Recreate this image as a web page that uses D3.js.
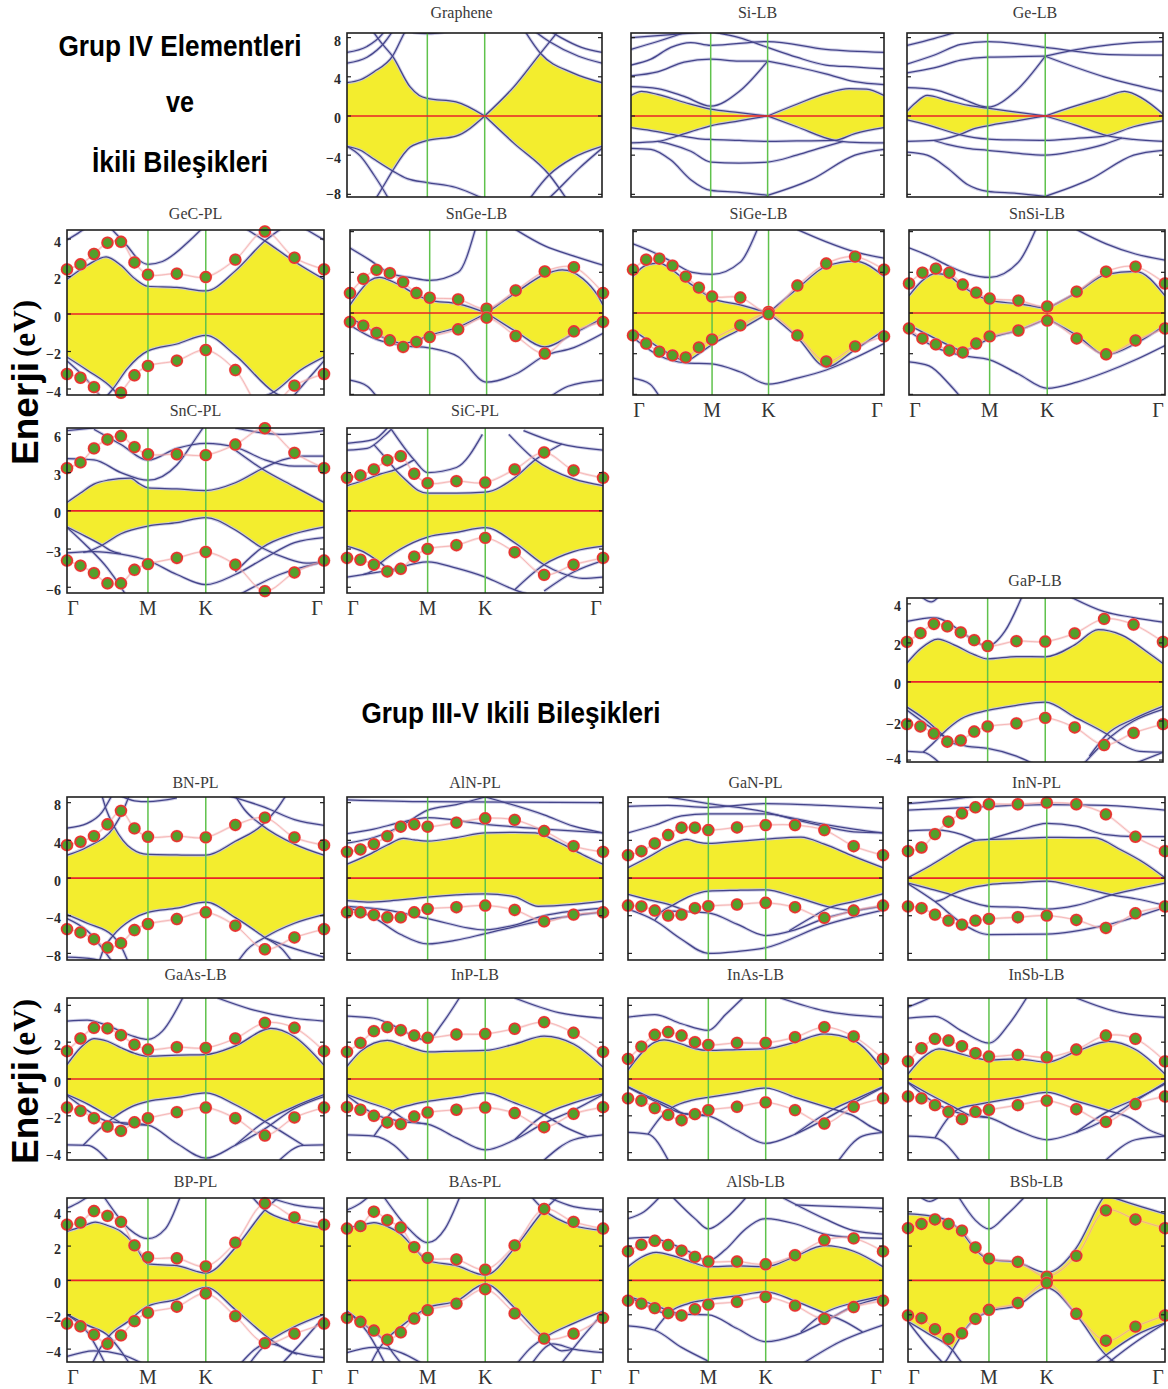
<!DOCTYPE html>
<html><head><meta charset="utf-8">
<script src="https://cdn.jsdelivr.net/npm/d3@7"></script>
<style>body{margin:0;background:#fff}</style>
</head><body>
<svg id="chart" width="1168" height="1389"></svg>
<script>
// k-path labels; k is given as an index 0..12 along Γ–M–K–Γ (M = 6, K = 8)
const kLabels = ["Γ", "M", "K", "Γ"];
const ticks8 = [-8, -4, 0, 4, 8];
const ticks6 = [-6, -3, 0, 3, 6];
const ticks4 = [-4, -2, 0, 2, 4];

// ---- band structures: [k, E(eV)] points; CB = above the gap, VB = below ----
const grapheneCB = [
  [[1.5,9.5],[2.6,7.4],[3.4,6.1],[4.7,3.0],[5.4,2.1],[6,1.8],[7,1.45],[8,0]],
  [[8,0],[9,3.0],[9.9,6.4],[10.6,9.0]],
  [[0,3.4],[1,3.7],[2,4.5],[3.4,6.1],[4.3,8.5],[5,10]],
  [[9.3,9.0],[9.9,6.4],[11,4.4],[12,3.4]],
  [[0,5.4],[1.5,6.0],[2.8,7.5],[3.8,9.5]],
  [[9.3,9.6],[10.2,7.6],[11.2,6.1],[12,5.4]],
  [[0,6.5],[1.5,7.1],[2.6,8.3],[3.2,9.5]],
  [[9.8,9.5],[10.6,8.0],[11.3,7.0],[12,6.5]],
  [[4,9.0],[5,8.5],[6,8.4],[7,8.7]]
];
const grapheneVB = [
  [[1.9,-9],[2.7,-7.2],[3.4,-5.6],[4.7,-3.2],[5.4,-2.75],[6,-2.5],[7,-2.05],[8,0]],
  [[8,0],[9,-2.8],[10.2,-6.0],[10.8,-8.5]],
  [[0,-3.1],[1,-3.5],[2,-4.4],[3.4,-5.6],[4.5,-6.4],[6,-6.8],[7,-7.3],[8,-8.5],[8.7,-9.5]],
  [[0,-3.1],[1,-4.1],[2,-6.0],[3,-8.2],[3.5,-9.5]],
  [[9.4,-9],[10.2,-6.0],[11,-4.3],[12,-3.1]],
  [[9.8,-9.5],[10.5,-7.5],[11.2,-5.4],[12,-3.3]]
];
const siliceneCB = [
  [[0,2.1],[0.8,2.5],[2,2.2],[4,1.4],[6,0.7],[7,0.35],[8,0]],
  [[8,0],[9,1.2],[10,2.3],[10.8,2.8],[11.4,2.75],[12,2.1]],
  [[0,3.0],[2,2.8],[4,2.0],[6,1.0],[7,2.5],[8,5.6]],
  [[8,5.6],[9,5.0],[10,4.3],[11,3.5],[12,3.2]],
  [[0,4.1],[2,4.5],[4,5.5],[6,5.8],[7,5.6],[8,5.6]],
  [[0,5.2],[1.5,5.8],[3,7.0],[4.5,7.5],[6,7.2],[8,7.6],[10,6.8],[12,6.5]],
  [[0,6.8],[2,7.6],[4,8.5]],
  [[6,8.6],[7,8.0],[8,7.0],[9,6.0],[10,5.2],[11,5.0],[12,4.8]],
  [[0,8.0],[3,8.3],[6,8.6]]
];
const siliceneVB = [
  [[0,-1.2],[1.5,-1.5],[3.6,-2.0],[5,-2.3],[6,-2.4],[7,-2.5],[8,-2.6],[9,-2.55],[10.3,-2.5],[11,-1.8],[12,-1.2]],
  [[0,-2.75],[2,-2.6],[3.6,-2.0],[5,-1.4],[6,-1.0],[7,-0.5],[8,0]],
  [[8,0],[9,-1.1],[10.3,-2.5],[11,-2.7],[12,-2.75]],
  [[0,-3.3],[1.5,-3.4],[3,-4.5],[4.5,-6.5],[6,-7.6],[7,-7.8],[8,-8.1]],
  [[8,-8.1],[9.5,-6.5],[11,-4.0],[12,-3.4]],
  [[2,-2.6],[3,-2.9],[4.5,-3.6],[6,-4.7],[7,-4.8],[8,-4.7],[9,-4.0],[10,-3.1],[10.6,-2.6]]
];
const germaneneCB = [
  [[0,0.5],[0.6,1.3],[1.5,2.1],[3,1.6],[4.5,1.1],[6,0.8],[7,0.4],[8,0]],
  [[8,0],[9,1.0],[10,1.9],[10.7,2.5],[11.3,1.8],[12,0.2]],
  [[0,2.9],[2,2.7],[4,1.8],[6,0.9],[7,2.6],[8,6.1]],
  [[8,6.1],[9,5.0],[10,4.0],[11,3.2],[12,2.5]],
  [[0,4.4],[2,4.9],[4,5.7],[6,6.0],[8,6.1]],
  [[0,5.3],[2,6.2],[4,7.3],[6,7.6],[8,7.0],[10,6.3],[12,6.2]],
  [[0,7.2],[2,7.9],[3.5,8.5]],
  [[8,6.1],[9.5,7.0],[11,7.5],[12,7.6]]
];
const germaneneVB = [
  [[0,-0.4],[1.5,-0.9],[3.9,-1.9],[5,-2.2],[6,-2.35],[7,-2.45],[8,-2.5],[9,-2.3],[10.1,-2.0],[11,-1.1],[12,-0.5]],
  [[0,-2.6],[2,-2.5],[3.9,-1.9],[5,-1.3],[6,-1.0],[7,-0.5],[8,0]],
  [[8,0],[9,-0.9],[10.1,-2.0],[11,-2.4],[12,-2.6]],
  [[0,-3.7],[1.5,-4.0],[3,-5.3],[4.5,-7.0],[6,-7.7],[7,-7.9],[8,-8.2]],
  [[8,-8.2],[9.5,-6.5],[11,-4.0],[12,-3.5]],
  [[2,-2.5],[3,-2.9],[4.5,-3.3],[6,-3.5],[7,-3.8],[8,-4.0],[9,-3.6],[10,-2.9],[10.6,-2.25]]
];
const gecCB = [
  [[0,1.85],[1.5,2.6],[2.9,3.05],[4,2.6],[5,1.9],[6,1.48],[7,1.42],[8,1.23],[9,2.3],[10,3.9],[10.6,4.6]],
  [[9.3,4.6],[10,3.9],[11,2.8],[12,1.85]],
  [[0,3.95],[0.8,4.3],[1.4,4.6]],
  [[3.2,4.6],[4.5,3.6],[5.3,2.9],[6,2.65],[6.5,2.8],[7.5,4.0],[7.9,4.6]],
  [[11.3,4.6],[12,3.95]]
];
const gecVB = [
  [[0,-2.3],[1.5,-3.0],[3.4,-4.0],[4,-4.5]],
  [[2.8,-4.5],[3.4,-4.0],[4.5,-2.9],[6,-1.97],[7,-1.6],[8,-1.14],[9,-2.2],[10.3,-4.16],[10.7,-4.5]],
  [[9.8,-4.5],[10.3,-4.16],[11.2,-3.0],[12,-2.3]],
  [[0,-2.5],[1.2,-3.3],[2.6,-4.5]],
  [[10.9,-4.5],[11.5,-3.4],[12,-2.5]]
];
const sngeCB = [
  [[0,0.4],[0.6,0.95],[1.5,1.6],[2.2,1.75],[3.5,1.45],[5,0.9],[6,0.62],[7,0.45],[8,0]],
  [[8,0],[9,1.0],[10,1.9],[10.6,2.12],[11.3,1.7],[11.8,0.9],[12,0.4]],
  [[0,3.2],[1.5,2.6],[3,1.95],[4.5,1.75],[6,1.6],[7,2.0],[7.6,4.1]],
  [[9,4.1],[10,3.3],[11,2.8],[12,2.35]]
];
const sngeVB = [
  [[0,-0.25],[1,-0.6],[2.5,-1.2],[4,-1.5],[5,-1.35],[6,-1.1],[7,-0.7],[8,0]],
  [[8,0],[9,-0.9],[10,-1.67],[11,-1.0],[12,-0.25]],
  [[0,-0.6],[2,-1.3],[4,-1.6],[6,-1.72],[7,-2.15],[8,-3.4],[9,-3.0],[10,-2.1],[11,-1.7],[12,-1.0]],
  [[0,-3.3],[1.3,-3.6],[2,-4.1]],
  [[10.2,-4.1],[10.8,-3.6],[12,-3.3]]
];
const sigeCB = [
  [[0,1.8],[1,2.35],[2,2.45],[3,2.1],[4,1.6],[5,1.15],[6,0.72],[7,0.4],[8,0]],
  [[8,0],[9,1.2],[10,2.3],[11,2.55],[12,1.8]],
  [[0,3.4],[1.5,3.0],[3,2.5],[4.5,2.0],[6,1.9],[7,2.5],[7.6,4.1]],
  [[9,4.1],[10,3.5],[11,3.0],[12,2.7]]
];
const sigeVB = [
  [[0,-0.85],[1.5,-1.5],[3,-2.1],[4,-2.35],[5,-2.0],[6,-1.55],[7,-0.8],[8,0]],
  [[8,0],[9,-1.2],[10,-2.65],[11,-1.8],[12,-0.85]],
  [[0,-1.2],[2,-2.1],[4,-2.45],[6,-2.5],[7,-2.9],[8,-3.5],[9,-3.2],[10,-2.8],[11,-2.2],[12,-1.5]],
  [[0,-3.2],[1.3,-3.5],[2,-4.1]]
];
const snsiCB = [
  [[0,0.85],[1,1.6],[2,1.95],[3,1.8],[4,1.3],[5,0.9],[6,0.62],[7,0.45],[8,0.22]],
  [[8,0.22],[9,1.0],[10,1.9],[11,2.05],[12,0.85]],
  [[0,3.2],[1.5,2.8],[3,2.3],[4.5,1.9],[6,1.75],[7,2.5],[7.6,4.1]],
  [[9,4.1],[10,3.4],[11,2.9],[12,2.6]]
];
const snsiVB = [
  [[0,-0.6],[1.5,-1.1],[3,-1.6],[4,-1.85],[5,-1.6],[6,-1.25],[7,-0.85],[8,-0.27]],
  [[8,-0.27],[9,-1.1],[10,-2.05],[11,-1.5],[12,-0.6]],
  [[0,-0.9],[2,-1.7],[4,-2.1],[6,-2.3],[7,-3.0],[8,-3.7],[9,-3.4],[10,-2.9],[11,-2.3],[12,-1.6]],
  [[0,-2.4],[1.5,-2.6],[3,-3.5],[3.8,-4.1]]
];
const sncCB = [
  [[0,0.66],[1,1.4],[2,2.1],[3,2.4],[4.7,2.57],[5.4,2.1],[6,1.8],[7,1.72],[8,1.59],[9,2.2],[9.9,3.3],[10.6,4.0],[11.3,4.3],[12,4.3]],
  [[8.8,5.1],[9.9,3.3],[11,1.9],[12,0.66]],
  [[0,4.1],[2,4.0],[4,3.0],[6,2.4],[7,3.6],[7.6,5.5],[7.9,6.5]],
  [[2,6.4],[4,5.2],[6,3.97],[7,4.9],[8,5.3],[9,5.0],[10,4.0],[11,3.5],[12,3.5]],
  [[0,6.3],[2,6.5]],
  [[9,6.5],[10.5,6.0],[12,6.3]]
];
const sncVB = [
  [[0,-1.27],[1,-1.8],[2.6,-2.7],[3.2,-3.1],[4,-3.35]],
  [[1.2,-3.27],[1.8,-3.1],[2.6,-2.7],[4,-1.8],[6,-1.2],[7,-0.93],[8,-0.53],[9,-1.5],[9.9,-2.9],[10.7,-3.7],[11.4,-4.1],[12,-4.0]],
  [[9,-4.8],[9.9,-2.9],[11,-1.8],[12,-1.27]],
  [[0,-1.3],[1.5,-2.8],[3,-4.5],[4,-6.0],[4.3,-6.5]],
  [[0,-3.3],[2,-3.2],[4,-3.4],[6,-3.9],[7,-5.0],[8,-5.8],[9,-5.0],[10,-3.7],[11,-2.5],[12,-2.1]],
  [[9.2,-6.5],[10.5,-5.0],[12,-4.0]]
];
const sicCB = [
  [[0,1.98],[1,2.3],[2.5,2.9],[3.6,3.23],[4.3,3.6],[5,4.0]],
  [[2,5.2],[3,4.0],[3.6,3.23],[4.5,2.3],[5.3,1.6],[6,1.38],[7,1.38],[8,1.46],[9,2.6],[9.7,4.0],[10.1,4.6],[10.6,5.25]],
  [[8.8,6.0],[9.7,4.0],[11,2.5],[12,1.98]],
  [[3.3,6.4],[5,4.0],[6,3.0],[7,3.4],[7.9,6.0]],
  [[0,4.76],[1.5,4.9],[2.8,5.9],[3.3,6.4]],
  [[9.3,6.3],[10.5,5.3],[12,4.76]],
  [[0,5.3],[2,5.6],[3,6.5]]
];
const sicVB = [
  [[0,-2.78],[1.2,-3.2],[2.5,-4.1],[3,-4.5],[3.6,-4.7]],
  [[1.2,-5.0],[1.9,-4.7],[2.5,-4.1],[4,-3.0],[6,-2.06],[7,-1.7],[8,-1.32],[9,-2.5],[10,-4.23],[10.6,-4.9],[11.3,-5.3],[12,-5.2]],
  [[9,-6.2],[10,-4.23],[11,-3.2],[12,-2.78]],
  [[0,-5.2],[3,-4.7],[6,-4.0],[7,-4.5],[8,-5.2],[9,-6.2],[9.4,-6.5]],
  [[10,-6.3],[11,-4.8],[12,-3.9]]
];
const gapCB = [
  [[0,0.97],[1,1.7],[2.3,2.2],[3.5,1.9],[5,1.4],[6,1.18],[7,1.3],[8,1.29],[9,1.9],[9.8,2.68],[10.6,2.4],[11.5,1.5],[12,0.95]],
  [[0,3.1],[2,3.3],[4,2.6],[5,2.1],[6,1.84],[6.6,2.6],[7.2,4.4]],
  [[8.8,4.4],[10,3.6],[11,3.3],[12,3.06]],
  [[1,4.4],[1.8,4.1],[2.4,4.4]]
];
const gapVB = [
  [[0,-1.29],[1.3,-1.9],[2.6,-2.68],[3.3,-3.1],[4.2,-3.25]],
  [[1.2,-3.6],[2,-3.1],[2.6,-2.68],[4,-1.9],[6,-1.46],[7,-1.2],[8,-1.03],[9,-1.8],[10.1,-2.68],[10.6,-3.2],[11.2,-3.55],[12,-3.6]],
  [[9.5,-3.8],[10.1,-2.68],[11,-1.9],[12,-1.25]],
  [[0,-1.45],[1.5,-2.2],[3,-2.9],[4.5,-3.3],[6,-3.4],[7,-3.8],[7.6,-4.2]],
  [[9.3,-4.2],[10,-3.1],[11,-2.0],[12,-1.4]],
  [[0,-3.55],[1.2,-3.6],[2.5,-4.2]],
  [[11,-4.2],[12,-3.6]]
];
const bnCB = [
  [[0,2.42],[1.5,3.3],[3.5,5.45],[4.2,7.3],[4.6,8.7]],
  [[2.6,8.7],[2.9,7.3],[3.5,5.45],[4.8,3.1],[6,2.5],[7,2.45],[8,2.42],[9,3.9],[9.9,5.6],[10.4,7.3],[10.7,8.7]],
  [[9.0,8.7],[9.3,7.3],[9.9,5.6],[11,3.6],[12,2.42]],
  [[0,5.3],[1.5,5.8],[2.6,7.0],[3.3,8.7]],
  [[8.8,8.7],[10,7.5],[11,6.2],[12,5.6]],
  [[4,8.7],[5,8.2],[6,8.1],[7,8.5]]
];
const bnVB = [
  [[0,-3.88],[1.5,-4.8],[3.4,-6.13],[4.1,-7.5],[4.5,-8.8]],
  [[2.4,-8.8],[2.7,-7.6],[3.4,-6.13],[4.8,-4.4],[6,-3.64],[7,-3.2],[8,-2.57],[9,-4.2],[10,-6.31],[10.6,-7.6],[10.9,-8.8]],
  [[9.1,-8.8],[9.4,-7.6],[10,-6.31],[11,-4.8],[12,-3.88]],
  [[0,-4.3],[1.5,-5.6],[3.3,-8.8]],
  [[0,-8.4],[2,-8.6],[3,-9.2]],
  [[10,-6.35],[11,-7.5],[12,-8.4]]
];
const alnCB = [
  [[0,1.46],[1.5,2.4],[3,3.5],[4.2,4.2],[5,4.05],[6,3.92],[7,4.3],[8,4.8],[9,4.85],[9.7,4.8],[10.5,3.8],[11.3,2.5],[12,1.46]],
  [[0,4.7],[2,5.2],[4,5.9],[6,6.4],[8,5.7],[10,5.2],[12,4.8]],
  [[0,3.7],[2,4.3],[4,5.5],[6,7.2],[7,7.8],[8,8.6]],
  [[8,8.6],[10,6.7],[11,5.5],[12,4.8]],
  [[0,8.3],[6,8.1],[12,8.0]]
];
const alnVB = [
  [[0,-2.4],[1.5,-2.55],[3,-2.45],[4.5,-2.25],[6,-2.03],[7,-1.8],[8,-1.68],[9,-2.0],[9.8,-3.0],[11,-2.8],[12,-2.45]],
  [[0,-3.1],[2,-4.2],[4,-6.0],[6,-7.0],[7,-6.6],[8,-5.9],[10,-4.5],[12,-3.6]],
  [[0,-3.0],[3,-3.4],[6,-4.3],[8,-5.5],[9,-5.0],[10,-4.0],[11,-3.5],[12,-3.2]]
];
const ganCB = [
  [[0,1.1],[1.5,2.2],[3,3.4],[4.4,4.1],[5.2,3.8],[6,3.67],[7,3.9],[8,4.13],[9.2,4.35],[10,3.6],[11,2.3],[12,1.1]],
  [[0,4.8],[2,5.6],[4,6.6],[6,6.8],[8,6.8],[9,6.3],[10,5.7],[11,5.2],[12,4.8]],
  [[0,7.6],[3,7.7],[6,7.5],[8,7.9],[10,7.7],[12,7.4]],
  [[3,8.6],[6,7.9],[8,7.0],[9,6.2],[10,5.5],[11,4.9],[12,4.8]]
];
const ganVB = [
  [[0,-1.74],[1.5,-2.3],[3.3,-2.92],[4,-3.3],[4.5,-3.6]],
  [[2,-4.5],[2.5,-3.6],[3.3,-2.92],[4.5,-2.0],[6,-1.39],[7,-1.3],[8,-1.25],[9,-2.0],[10.2,-3.1],[11,-3.5]],
  [[8.8,-5.6],[9.5,-4.3],[10.2,-3.1],[11,-2.5],[12,-1.67]],
  [[0,-3.3],[2,-4.5],[4,-6.5],[6,-8.0],[7,-7.8],[8,-7.4],[10,-5.0],[12,-3.4]],
  [[3,-3.5],[6,-3.7],[7,-4.9],[8,-6.1],[9,-5.5],[10,-4.3],[11,-3.5],[12,-3.0]]
];
const innCB = [
  [[0,0.03],[1.5,1.2],[3,2.5],[4.3,3.6],[5,4.0],[6,4.09],[7,4.2],[8,4.31],[9,4.3],[9.6,4.28],[10.5,3.0],[11.3,1.6],[12,0.03]],
  [[6,4.1],[7,5.0],[8,5.8],[9,5.5],[10,4.6],[11,4.4],[12,4.4]],
  [[0,7.2],[3,7.4],[6,7.6],[8,7.8],[10,7.7],[12,7.2]],
  [[0,5.0],[2,5.1],[4,4.6],[5,4.0]],
  [[0,7.9],[3,8.3],[5,8.7]]
];
const innVB = [
  [[0,-0.53],[1.5,-1.1],[3.2,-1.78],[4.8,-2.6],[6,-3.0],[7,-3.1],[8,-3.3],[9,-2.9],[10.2,-1.78],[11,-1.2],[12,-0.53]],
  [[2,-2.5],[2.5,-2.3],[3.2,-1.78],[4.5,-1.1],[6,-0.71],[7,-0.5],[8,-0.32],[9,-0.9],[10.2,-1.78],[11,-2.2],[12,-2.9]],
  [[0,-0.6],[2,-2.5],[4,-4.8],[6,-6.0],[8,-5.95],[10,-5.0],[12,-3.1]]
];
const gaasCB = [
  [[0,0.78],[1,1.7],[2,2.2],[3,2.05],[4,1.7],[5,1.4],[6,1.24],[7,1.3],[8,1.33],[9,1.8],[10.2,2.75],[11,2.3],[12,0.75]],
  [[0,3.15],[1.5,3.2],[3,2.9],[5,2.3],[6,2.15],[6.5,2.6],[7.2,4.4]],
  [[8.4,4.4],[9.5,3.8],[11,3.3],[12,3.15]]
];
const gaasVB = [
  [[0,-0.85],[1.5,-1.35],[3.4,-2.13],[4.3,-2.45],[6,-2.5]],
  [[1.2,-3.6],[2.6,-2.6],[3.4,-2.13],[4.8,-1.5],[6,-1.22],[7,-1.0],[8,-0.76],[9,-1.4],[10,-2.31],[10.6,-2.9],[11.3,-3.6]],
  [[9,-3.6],[10,-2.31],[11,-1.5],[12,-0.85]],
  [[0,-0.9],[1.5,-1.7],[3,-2.3],[4.5,-2.4],[6,-2.5],[7,-3.5],[8,-4.3],[9,-3.6],[10,-2.7],[11,-1.6],[12,-0.95]],
  [[0,-3.58],[1.5,-3.6],[3,-4.4]],
  [[10.5,-4.4],[11.3,-3.6],[12,-3.58]]
];
const inpCB = [
  [[0,0.69],[1,1.5],[2,1.95],[3,2.1],[4,1.9],[5,1.65],[6,1.47],[7,1.52],[8,1.55],[9,1.9],[10,2.33],[11,1.9],[12,0.65]],
  [[0,3.42],[2,3.3],[4,2.7],[5,2.3],[6,2.1],[6.5,3.0],[7.1,4.4]],
  [[9,4.4],[10.5,3.6],[12,3.3]]
];
const inpVB = [
  [[0,-0.85],[1.5,-1.25],[3.4,-1.76],[4.3,-2.2],[5,-2.35],[6,-2.45]],
  [[2,-3.1],[2.7,-2.4],[3.4,-1.76],[4.8,-1.4],[6,-1.22],[7,-1.0],[8,-0.76],[9,-1.3],[10,-1.95],[10.7,-2.6],[11.5,-3.15]],
  [[9,-3.3],[10,-1.95],[11,-1.3],[12,-0.8]],
  [[0,-0.9],[2,-1.9],[4,-2.3],[6,-2.45],[7,-3.2],[8,-3.85],[9,-3.3],[10,-2.4],[11,-1.7],[12,-0.85]],
  [[0,-3.04],[2,-3.1],[3.5,-3.6],[4.6,-4.4]],
  [[10,-4.4],[11,-3.3],[12,-3.04]]
];
const inasCB = [
  [[0,0.49],[1,1.4],[2,2.0],[2.7,2.13],[4,1.9],[5,1.65],[6,1.55],[7,1.6],[8,1.64],[9,2.0],[10,2.45],[11,2.1],[12,0.49]],
  [[0,3.36],[2,3.5],[4,3.0],[6,2.64],[6.6,3.5],[7.2,4.4]],
  [[8.5,4.4],[10,3.7],[12,3.36]]
];
const inasVB = [
  [[0,-0.42],[1.5,-0.95],[3.3,-1.55],[4.2,-1.9],[6,-2.0]],
  [[1.5,-3.0],[2.6,-1.95],[3.3,-1.55],[4.8,-1.15],[6,-1.0],[7,-0.75],[8,-0.49],[9,-1.0],[10.3,-1.64],[11,-2.0],[11.6,-2.6],[12,-2.9]],
  [[9,-3.0],[10.3,-1.64],[11.2,-1.0],[12,-0.42]],
  [[0,-0.45],[2,-1.2],[4,-1.85],[6,-2.0],[7,-2.8],[8,-3.5],[9,-3.0],[10,-2.2],[11,-1.3],[12,-0.45]],
  [[0,-2.9],[1.5,-3.0],[3,-4.4]],
  [[10.5,-4.4],[11.3,-3.1],[12,-2.9]]
];
const insbCB = [
  [[0,0.27],[1,1.1],[2.3,1.64],[3.5,1.45],[5,1.15],[6,1.04],[7,1.1],[8,0.91],[9,1.5],[10.1,2.04],[11,1.6],[12,0.27]],
  [[0,3.3],[2,3.4],[4,2.6],[6,1.95],[6.7,3.0],[7.3,4.4]],
  [[9,4.4],[10.5,3.6],[12,3.35]],
  [[0,3.9],[1,4.2],[1.6,4.4]]
];
const insbVB = [
  [[0,-0.18],[1.5,-0.8],[3.7,-1.64],[4.5,-1.95],[6,-2.1]],
  [[2,-3.2],[3,-2.1],[3.7,-1.64],[5,-1.4],[6,-1.27],[7,-1.0],[8,-0.73],[9,-1.2],[10.1,-1.73],[10.8,-2.1],[11.5,-2.8],[12,-3.1]],
  [[9,-2.9],[10.1,-1.73],[11,-1.1],[12,-0.27]],
  [[0,-0.2],[2,-1.3],[4,-1.9],[6,-2.1],[7,-2.8],[8,-3.3],[9,-2.9],[10,-2.2],[11,-1.2],[12,-0.2]],
  [[0,-3.1],[2,-3.2],[3.8,-4.4]],
  [[10,-4.4],[11,-3.3],[12,-3.1]]
];
const bpCB = [
  [[0,2.86],[1,3.1],[2.1,3.4],[3,3.2],[4,2.85],[5,2.1],[6,0.96],[7,0.86],[8,0.43],[9,1.9],[10,4.1],[10.5,4.9]],
  [[9.5,5],[10,4.1],[11,3.4],[12,3.06]],
  [[0,4.2],[1,4.6],[1.6,4.9]],
  [[2.8,4.8],[4.6,3.0],[6,2.43],[6.6,3.0],[7.1,4.8]],
  [[10.2,4.8],[11,4.4],[12,4.2]]
];
const bpVB = [
  [[0,-1.98],[1.5,-2.6],[3.1,-3.25],[3.8,-3.9],[4.6,-4.8]],
  [[1.9,-4.8],[2.5,-3.9],[3.1,-3.25],[4.5,-2.4],[6,-1.49],[7,-1.1],[8,-0.41],[9,-1.7],[10.2,-3.45],[10.8,-4.1],[11.1,-4.3]],
  [[9.2,-4.8],[9.6,-4.1],[10.2,-3.45],[11,-2.7],[12,-1.98]],
  [[0,-4.43],[2,-4.1],[4,-4.3],[5.5,-4.8]],
  [[0,-2.0],[1.5,-3.0],[2.8,-4.8]],
  [[9.5,-4.8],[10.2,-3.7],[11,-4.2],[12,-4.5]],
  [[10.6,-4.8],[11.3,-3.5],[12,-2.1]]
];
const basCB = [
  [[0,3.06],[1,3.2],[2,3.37],[3,3.15],[4,2.7],[5,1.9],[6,1.16],[7,0.86],[8,0.31],[9,1.9],[10,4.1],[10.5,4.9]],
  [[9.5,5],[10,4.1],[11,3.2],[12,2.92]],
  [[0,4.1],[1,4.5],[1.5,4.8]],
  [[2.8,4.8],[4.6,3.0],[6,2.2],[6.6,3.0],[7.1,4.8]],
  [[10.2,4.8],[11,4.3],[12,4.1]]
];
const basVB = [
  [[0,-1.78],[1.5,-2.7],[2.8,-3.55],[3.4,-4.2],[4.0,-4.8]],
  [[1.8,-4.8],[2.2,-4.2],[2.8,-3.55],[4,-2.7],[5,-2.1],[6,-1.59],[7,-1.2],[8,-0.22],[9,-1.6],[10,-3.35],[10.6,-4.1],[11,-4.0]],
  [[9.1,-4.8],[9.5,-4.0],[10,-3.35],[11,-2.5],[12,-1.78]],
  [[0,-4.2],[2,-3.9],[4,-4.2],[5.5,-4.8]],
  [[0,-1.8],[1.5,-3.0],[2.8,-4.8]],
  [[9.6,-4.8],[10.3,-3.7],[11,-4.0],[12,-4.2]],
  [[10.6,-4.8],[11.3,-3.3],[12,-1.9]]
];
const alsbCB = [
  [[0,0.8],[1,1.35],[2.1,1.63],[3.5,1.4],[5,1.0],[6,0.8],[7,0.85],[8,0.8],[9,1.4],[10,2.02],[11,1.7],[12,0.8]],
  [[0,2.45],[1.5,2.5],[3,2.2],[4.5,1.7],[6,1.14],[6.6,1.8],[7.3,3.0],[8,3.6],[9,3.3],[10,2.7],[11,2.5],[12,2.45]],
  [[0,3.6],[1.2,4.0],[2.3,4.8]],
  [[3.4,4.8],[5,3.6],[6,3.0],[6.6,3.6],[7.3,4.8]],
  [[9,4.4],[10.5,4.3],[12,4.2]],
  [[8.6,4.8],[10,3.6],[11,2.9],[12,2.7]]
];
const alsbVB = [
  [[0,-0.92],[1.5,-1.3],[3.2,-1.8],[4,-2.0]],
  [[2,-2.9],[3.2,-1.8],[4.5,-1.35],[6,-1.12],[7,-0.9],[8,-0.67],[9,-1.2],[10,-1.9],[10.7,-2.4],[11.3,-3.0]],
  [[9.2,-3.0],[10,-1.9],[11,-1.3],[12,-0.92]],
  [[0,-2.65],[2,-2.9],[4,-3.9],[6,-4.7]],
  [[0,-0.95],[1.5,-1.5],[3,-1.95],[6,-2.0],[7,-2.8],[8,-3.57],[9,-3.2],[10,-2.4],[11,-1.5],[12,-1.0]],
  [[9.3,-4.8],[10.5,-3.6],[12,-2.6]]
];
const bsbCB = [
  [[0,3.88],[1.5,3.78],[3,3.45],[4,2.8],[5,1.8],[6,1.24],[7,1.04],[8,0.45],[9,1.9],[9.9,4.8],[10.3,5.6]],
  [[9.6,5.2],[10.2,4.85],[11,4.4],[12,3.88]],
  [[3.8,4.8],[5,3.5],[6,3.0],[6.6,3.8],[7.2,4.8]],
  [[1,4.8],[1.6,4.6],[2.2,4.8]]
];
const bsbVB = [
  [[0,-2.39],[1.5,-3.1],[3.3,-4.06],[3.8,-4.6],[4.1,-4.9]],
  [[2.5,-4.9],[2.8,-4.7],[3.3,-4.06],[4.5,-2.6],[6,-1.8],[7,-1.45],[8,-0.43],[9,-2.0],[10,-4.35],[10.4,-4.9]],
  [[9.5,-5],[10,-4.35],[11,-3.2],[12,-2.49]],
  [[0,-2.4],[1.2,-3.6],[2.7,-4.9]],
  [[10,-4.9],[11,-3.6],[12,-2.5]]
];

// ---- highlighted states at the 13 k-points (upper / lower) ----
const gecUp  = [2.38,2.65,3.2,3.8,3.85,2.75,2.1,2.15,1.97,2.9,4.4,3.0,2.38];
const gecDn  = [-3.2,-3.4,-3.9,-5.2,-4.2,-3.27,-2.77,-2.49,-1.92,-2.99,-5.2,-3.82,-3.2];
const sngeUp = [0.98,1.68,2.12,1.96,1.52,0.98,0.75,0.67,0.21,1.11,2.04,2.25,0.98];
const sngeDn = [-0.44,-0.62,-0.98,-1.34,-1.67,-1.42,-1.18,-0.8,-0.23,-1.13,-1.99,-0.9,-0.44];
const sigeUp = [2.13,2.62,2.67,2.33,1.79,1.25,0.81,0.76,0.05,1.35,2.43,2.77,2.13];
const sigeDn = [-1.1,-1.5,-1.9,-2.08,-2.18,-1.69,-1.3,-0.61,-0.05,-1.1,-2.38,-1.64,-1.15];
const snsiUp = [1.45,1.98,2.18,1.98,1.4,1.0,0.71,0.61,0.32,1.05,2.03,2.28,1.45];
const snsiDn = [-0.76,-1.25,-1.54,-1.84,-1.94,-1.5,-1.15,-0.86,-0.37,-1.25,-2.03,-1.35,-0.76];
const sncUp  = [3.35,3.8,4.9,5.6,5.87,5.0,4.44,4.44,4.37,5.2,6.48,4.55,3.35];
const sncDn  = [-3.9,-4.31,-4.89,-5.69,-5.69,-4.63,-4.18,-3.7,-3.23,-4.23,-6.3,-4.84,-3.9];
const sicUp  = [2.59,2.78,3.25,3.97,4.29,2.91,2.17,2.33,2.22,3.25,4.58,3.17,2.59];
const sicDn  = [-3.7,-3.84,-4.23,-4.76,-4.55,-3.6,-2.99,-2.7,-2.12,-3.25,-5.03,-4.23,-3.7];
const gapUp  = [2.05,2.5,2.97,2.85,2.54,2.14,1.84,2.09,2.07,2.49,3.23,2.94,2.05];
const gapDn  = [-2.16,-2.28,-2.64,-3.06,-2.99,-2.54,-2.28,-2.12,-1.84,-2.33,-3.23,-2.61,-2.16];
const bnUp   = [3.49,3.85,4.45,5.7,7.13,5.27,4.38,4.45,4.31,5.63,6.41,4.31,3.49];
const bnDn   = [-5.42,-5.77,-6.49,-7.38,-6.91,-5.52,-4.88,-4.35,-3.64,-5.06,-7.56,-6.31,-5.42];
const alnUp  = [2.78,3.03,3.6,4.45,5.45,5.7,5.45,5.88,6.34,6.17,4.99,3.39,2.78];
const alnDn  = [-3.64,-3.64,-3.92,-4.17,-4.17,-3.64,-3.28,-3.1,-2.92,-3.39,-4.6,-3.88,-3.64];
const ganUp  = [2.42,2.85,3.67,4.56,5.34,5.34,5.09,5.37,5.62,5.62,5.09,3.38,2.42];
const ganDn  = [-2.92,-3.02,-3.45,-3.99,-3.88,-3.2,-2.99,-2.81,-2.63,-3.1,-4.23,-3.45,-2.92];
const innUp  = [2.85,3.24,4.66,5.98,6.87,7.51,7.83,7.83,8.0,7.83,6.76,4.38,2.85];
const innDn  = [-3.02,-3.2,-3.88,-4.52,-4.95,-4.52,-4.34,-4.16,-3.99,-4.45,-5.3,-3.74,-3.02];
const gaasUp = [1.51,2.2,2.78,2.75,2.38,1.87,1.6,1.73,1.69,2.2,3.05,2.78,1.51];
const gaasDn = [-1.55,-1.73,-2.13,-2.58,-2.82,-2.35,-2.13,-1.8,-1.55,-2.13,-3.07,-2.09,-1.55];
const inpUp  = [1.47,1.96,2.6,2.82,2.65,2.36,2.24,2.42,2.45,2.73,3.09,2.51,1.47];
const inpDn  = [-1.53,-1.67,-2.0,-2.36,-2.45,-2.04,-1.82,-1.67,-1.55,-1.85,-2.62,-1.89,-1.53];
const inasUp = [1.09,1.76,2.4,2.55,2.36,2.0,1.85,1.96,1.96,2.27,2.82,2.31,1.09];
const inasDn = [-1.05,-1.18,-1.58,-1.95,-2.24,-1.91,-1.69,-1.51,-1.27,-1.69,-2.42,-1.51,-1.05];
const insbUp = [0.96,1.67,2.18,2.09,1.78,1.4,1.22,1.31,1.18,1.6,2.36,2.18,0.96];
const insbDn = [-0.95,-1.05,-1.42,-1.78,-2.18,-1.78,-1.67,-1.42,-1.18,-1.64,-2.33,-1.36,-0.95];
const bpUp   = [3.25,3.37,4.04,3.76,3.41,2.04,1.35,1.29,0.82,2.2,4.49,3.67,3.25];
const bpDn   = [-2.51,-2.67,-3.16,-3.69,-3.2,-2.37,-1.88,-1.53,-0.76,-2.08,-3.65,-3.1,-2.51];
const basUp  = [3.02,3.16,4.0,3.51,3.08,1.94,1.31,1.22,0.63,2.04,4.16,3.41,3.02];
const basDn  = [-2.18,-2.41,-2.92,-3.45,-3.02,-2.22,-1.73,-1.35,-0.51,-1.92,-3.39,-3.1,-2.18];
const alsbUp = [1.69,2.08,2.31,2.06,1.73,1.37,1.1,1.1,0.94,1.47,2.35,2.45,1.69];
const alsbDn = [-1.18,-1.35,-1.61,-1.9,-2.04,-1.67,-1.41,-1.25,-0.96,-1.47,-2.24,-1.55,-1.18];
const bsbUp  = [3.04,3.29,3.55,3.29,2.9,1.92,1.27,1.08,0.22,1.43,4.08,3.55,3.04];
const bsbDn  = [-2.04,-2.2,-2.84,-3.41,-3.08,-2.24,-1.71,-1.31,-0.14,-1.94,-3.51,-2.69,-2.04];

// ---- panel layout ----
const M_FRAC = 0.315, K_FRAC = 0.54;
const panels = [
  {t:"Graphene", x:347, y:33, w:255, h:164, ty:18, tdx:-13, dom:[-8.27,8.47], ticks:ticks8, lab:true, cb:grapheneCB, vb:grapheneVB},
  {t:"Si-LB", x:631, y:33, w:253, h:164, ty:18, dom:[-8.27,8.47], ticks:ticks8, cb:siliceneCB, vb:siliceneVB},
  {t:"Ge-LB", x:907, y:33, w:256, h:164, ty:18, dom:[-8.27,8.47], ticks:ticks8, cb:germaneneCB, vb:germaneneVB},
  {t:"GeC-PL", x:67, y:230, w:257, h:165, ty:219, dom:[-4.32,4.48], ticks:ticks4, lab:true, cb:gecCB, vb:gecVB, up:gecUp, dn:gecDn},
  {t:"SnGe-LB", x:350, y:230, w:253, h:165, ty:219, dom:[-4.03,4.08], ticks:ticks4, cb:sngeCB, vb:sngeVB, up:sngeUp, dn:sngeDn},
  {t:"SiGe-LB", x:633, y:230, w:251, h:165, ty:219, dom:[-4.03,4.08], ticks:ticks4, k:true, cb:sigeCB, vb:sigeVB, up:sigeUp, dn:sigeDn},
  {t:"SnSi-LB", x:909, y:230, w:256, h:165, ty:219, dom:[-4.03,4.08], ticks:ticks4, k:true, cb:snsiCB, vb:snsiVB, up:snsiUp, dn:snsiDn},
  {t:"SnC-PL", x:67, y:428, w:257, h:165, ty:416, dom:[-6.45,6.5], ticks:ticks6, lab:true, k:true, cb:sncCB, vb:sncVB, up:sncUp, dn:sncDn},
  {t:"SiC-PL", x:347, y:428, w:256, h:165, ty:416, dom:[-6.45,6.5], ticks:ticks6, k:true, cb:sicCB, vb:sicVB, up:sicUp, dn:sicDn},
  {t:"GaP-LB", x:907, y:598, w:256, h:164, ty:586, dom:[-4.1,4.3], ticks:ticks4, lab:true, cb:gapCB, vb:gapVB, up:gapUp, dn:gapDn},
  {t:"BN-PL", x:67, y:797, w:257, h:163, ty:788, dom:[-8.7,8.6], ticks:ticks8, lab:true, cb:bnCB, vb:bnVB, up:bnUp, dn:bnDn},
  {t:"AlN-PL", x:347, y:797, w:256, h:163, ty:788, dom:[-8.7,8.6], ticks:ticks8, cb:alnCB, vb:alnVB, up:alnUp, dn:alnDn},
  {t:"GaN-PL", x:628, y:797, w:255, h:163, ty:788, dom:[-8.7,8.6], ticks:ticks8, cb:ganCB, vb:ganVB, up:ganUp, dn:ganDn},
  {t:"InN-PL", x:908, y:797, w:257, h:163, ty:788, dom:[-8.7,8.6], ticks:ticks8, cb:innCB, vb:innVB, up:innUp, dn:innDn},
  {t:"GaAs-LB", x:67, y:998, w:257, h:162, ty:980, dom:[-4.4,4.4], ticks:ticks4, lab:true, cb:gaasCB, vb:gaasVB, up:gaasUp, dn:gaasDn},
  {t:"InP-LB", x:347, y:998, w:256, h:162, ty:980, dom:[-4.4,4.4], ticks:ticks4, cb:inpCB, vb:inpVB, up:inpUp, dn:inpDn},
  {t:"InAs-LB", x:628, y:998, w:255, h:162, ty:980, dom:[-4.4,4.4], ticks:ticks4, cb:inasCB, vb:inasVB, up:inasUp, dn:inasDn},
  {t:"InSb-LB", x:908, y:998, w:257, h:162, ty:980, dom:[-4.4,4.4], ticks:ticks4, cb:insbCB, vb:insbVB, up:insbUp, dn:insbDn},
  {t:"BP-PL", x:67, y:1198, w:257, h:164, ty:1187, dom:[-4.75,4.8], ticks:ticks4, lab:true, k:true, cb:bpCB, vb:bpVB, up:bpUp, dn:bpDn},
  {t:"BAs-PL", x:347, y:1198, w:256, h:164, ty:1187, dom:[-4.75,4.8], ticks:ticks4, k:true, cb:basCB, vb:basVB, up:basUp, dn:basDn},
  {t:"AlSb-LB", x:628, y:1198, w:255, h:164, ty:1187, dom:[-4.75,4.8], ticks:ticks4, k:true, cb:alsbCB, vb:alsbVB, up:alsbUp, dn:alsbDn},
  {t:"BSb-LB", x:908, y:1198, w:257, h:164, ty:1187, dom:[-4.75,4.8], ticks:ticks4, k:true, cb:bsbCB, vb:bsbVB, up:bsbUp, dn:bsbDn}
];

const svg = d3.select("#chart");
const defs = svg.append("defs");
const SERIF = "'Liberation Serif','Times New Roman',serif";
const SANS = "'Liberation Sans Narrow','Arial Narrow','Liberation Sans',Arial,sans-serif";

// per-column pixel y of a rendered band path (local coordinates)
function sampleColumns(node) {
  const L = node.getTotalLength();
  const pts = [];
  for (let s = 0; s < L; s += 1) pts.push(node.getPointAtLength(s));
  pts.push(node.getPointAtLength(L));
  const cols = [];
  if (pts.length < 2) return cols;
  let j = 0;
  const c0 = Math.ceil(pts[0].x - 1e-6), c1 = Math.floor(pts[pts.length - 1].x + 1e-6);
  for (let cx = c0; cx <= c1; cx++) {
    while (j < pts.length - 2 && pts[j + 1].x < cx) j++;
    const a = pts[j], b = pts[j + 1];
    const t = b.x === a.x ? 0 : Math.max(0, Math.min(1, (cx - a.x) / (b.x - a.x)));
    cols[cx] = a.y + t * (b.y - a.y);
  }
  return cols;
}

panels.forEach((p, i) => {
  const g = svg.append("g").attr("transform", `translate(${p.x},${p.y})`);
  const x = d3.scaleLinear().domain([0, 6, 8, 12]).range([0, p.w * M_FRAC, p.w * K_FRAC, p.w]);
  const y = d3.scaleLinear().domain(p.dom).range([p.h, 0]);

  defs.append("clipPath").attr("id", "cf" + i).append("rect").attr("width", p.w).attr("height", p.h);
  defs.append("clipPath").attr("id", "cd" + i).append("rect")
    .attr("x", -7).attr("y", -7).attr("width", p.w + 14).attr("height", p.h + 14);

  const fillL = g.append("g").attr("clip-path", `url(#cf${i})`);
  const haloL = g.append("g").attr("clip-path", `url(#cf${i})`);
  const bandL = g.append("g").attr("clip-path", `url(#cf${i})`);
  const gridL = g.append("g").attr("clip-path", `url(#cf${i})`);
  const trailL = g.append("g").attr("clip-path", `url(#cf${i})`);
  const dotL = g.append("g").attr("clip-path", `url(#cd${i})`);

  const line = d3.line().x(d => x(d[0])).y(d => y(d[1])).curve(d3.curveMonotoneX);
  const all = p.cb.concat(p.vb);
  all.forEach(b => haloL.append("path").attr("d", line(b)).attr("fill", "none")
    .attr("stroke", "#c4c4e2").attr("stroke-width", 3.2).attr("stroke-opacity", 0.85));
  const cbNodes = p.cb.map(b => bandL.append("path").attr("d", line(b)).attr("fill", "none")
    .attr("stroke", "#44448a").attr("stroke-width", 1.25).node());
  const vbNodes = p.vb.map(b => bandL.append("path").attr("d", line(b)).attr("fill", "none")
    .attr("stroke", "#44448a").attr("stroke-width", 1.25).node());

  // gap region between the lowest CB and the highest VB
  const cbCols = cbNodes.map(sampleColumns), vbCols = vbNodes.map(sampleColumns);
  const y0 = y(0), W = Math.floor(p.w);
  const env = [];
  for (let cx = 0; cx <= W; cx++) {
    let top = null, bot = null;
    cbCols.forEach(c => { const v = c[cx]; if (v !== undefined) top = top === null ? v : Math.max(top, v); });
    vbCols.forEach(c => { const v = c[cx]; if (v !== undefined) bot = bot === null ? v : Math.min(bot, v); });
    if (top === null) top = y0;
    if (bot === null) bot = y0;
    env.push([cx, top, Math.max(top, bot)]);
  }
  env.push([p.w, env[env.length - 1][1], env[env.length - 1][2]]);
  fillL.append("path").attr("fill", "#f3ed2e")
    .attr("d", d3.area().x(d => d[0]).y0(d => d[2]).y1(d => d[1])(env));

  // high-symmetry verticals and Fermi level
  [6, 8].forEach(k => gridL.append("line").attr("x1", x(k)).attr("x2", x(k))
    .attr("y1", 0).attr("y2", p.h).attr("stroke", "#5fc24c").attr("stroke-width", 1.5));
  gridL.append("line").attr("x1", 0).attr("x2", p.w).attr("y1", y0).attr("y2", y0)
    .attr("stroke", "#e8222a").attr("stroke-width", 1.7);

  // highlighted states
  if (p.up) {
    const trail = d3.line().x((d, j) => x(j)).y(d => y(d)).curve(d3.curveCatmullRom);
    [p.up, p.dn].forEach(arr => {
      trailL.append("path").attr("d", trail(arr)).attr("fill", "none")
        .attr("stroke", "#f7bcbc").attr("stroke-width", 2.4).attr("stroke-opacity", 0.45);
      trailL.append("path").attr("d", trail(arr)).attr("fill", "none")
        .attr("stroke", "#ef8c8c").attr("stroke-width", 0.8).attr("stroke-opacity", 0.6);
      arr.forEach((v, j) => {
        dotL.append("circle").attr("cx", x(j)).attr("cy", y(v)).attr("r", 6.6)
          .attr("fill", "#f7a5a5").attr("opacity", 0.55);
        dotL.append("circle").attr("cx", x(j)).attr("cy", y(v)).attr("r", 5.3)
          .attr("fill", "#53a02b").attr("stroke", "#e6352f").attr("stroke-width", 1.8);
      });
    });
  }

  // frame and ticks
  g.append("rect").attr("width", p.w).attr("height", p.h).attr("fill", "none")
    .attr("stroke", "#1f1f1f").attr("stroke-width", 1.6);
  p.ticks.forEach(t => {
    if (t < p.dom[0] || t > p.dom[1]) return;
    const ty = y(t);
    g.append("line").attr("x1", 0).attr("x2", 4).attr("y1", ty).attr("y2", ty).attr("stroke", "#1f1f1f").attr("stroke-width", 1.2);
    g.append("line").attr("x1", p.w - 4).attr("x2", p.w).attr("y1", ty).attr("y2", ty).attr("stroke", "#1f1f1f").attr("stroke-width", 1.2);
    if (p.lab) {
      const ly = Math.max(8, Math.min(p.h - 3, ty + 3));
      g.append("text").attr("x", -6).attr("y", ly + 4.5).attr("text-anchor", "end")
        .attr("font-family", SERIF).attr("font-weight", "bold").attr("font-size", 14).attr("fill", "#2a2a2a")
        .text(t < 0 ? "\u2212" + Math.abs(t) : String(t));
    }
  });

  g.append("text").attr("x", p.w / 2 + (p.tdx || 0)).attr("y", p.ty - p.y).attr("text-anchor", "middle")
    .attr("font-family", SERIF).attr("font-size", 16).attr("fill", "#3a3a3a").text(p.t);

  if (p.k) {
    const kx = [x(0) + 6, x(6), x(8), x(12) - 7];
    kLabels.forEach((lab, j) => g.append("text").attr("x", kx[j]).attr("y", p.h + 22)
      .attr("text-anchor", "middle").attr("font-family", SERIF).attr("font-size", 20)
      .attr("fill", "#333").text(lab));
  }
});

// headings
function heading(txt, cx, by, width, size) {
  svg.append("text").attr("x", cx).attr("y", by).attr("text-anchor", "middle")
    .attr("font-family", SANS).attr("font-weight", "bold").attr("font-size", size).attr("fill", "#000")
    .attr("textLength", width).attr("lengthAdjust", "spacingAndGlyphs").text(txt);
}
heading("Grup IV Elementleri", 180, 56, 243, 29);
heading("ve", 180, 112, 28, 29);
heading("İkili Bileşikleri", 180, 172, 176, 29);
heading("Grup III-V Ikili Bileşikleri", 511, 723, 299, 29);

// vertical axis titles
function axisTitle(yStart) {
  svg.append("text").attr("transform", `translate(38,${yStart}) rotate(-90)`)
    .attr("font-family", "'Liberation Sans',Arial,sans-serif").attr("font-weight", "bold").attr("font-size", 36)
    .attr("textLength", 103).attr("lengthAdjust", "spacingAndGlyphs").attr("fill", "#000").text("Enerji");
  svg.append("text").attr("transform", `translate(35,${yStart - 108}) rotate(-90)`)
    .attr("font-family", SERIF).attr("font-weight", "bold").attr("font-size", 31)
    .attr("textLength", 57).attr("lengthAdjust", "spacingAndGlyphs").attr("fill", "#000").text("(eV)");
}
axisTitle(465);
axisTitle(1164);
</script>
</body></html>
